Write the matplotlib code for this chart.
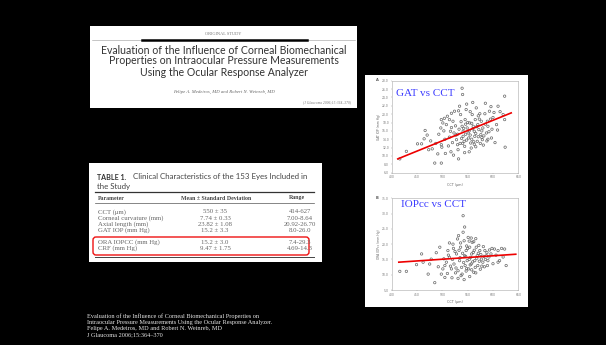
import matplotlib.pyplot as plt
from matplotlib.patches import Rectangle, FancyBboxPatch

# slide size in pixels
W, H = 606, 345

# --- scatter data ---
gat_cct = [416, 429, 451, 459, 464, 466, 477, 473, 480, 485, 498, 491, 498, 501, 497,
           498, 499, 508, 510, 514, 516, 514, 521, 524, 523, 528, 530, 531, 532, 534,
           539, 540, 536, 539, 541, 541, 543, 544, 545, 547, 549, 551, 552, 554, 556,
           557, 559, 561, 563, 564, 565, 567, 569, 570, 572, 574, 576, 577, 579, 580,
           584, 587, 589, 590, 593, 597, 602, 607, 610, 620, 623, 623, 624, 505, 512,
           518, 520, 526, 527, 533, 535, 537, 538, 542, 546, 548, 550, 553, 555, 558,
           560, 562, 566, 568, 571, 573, 575, 578, 582, 585, 588, 592, 595, 598, 600,
           604, 609, 614, 470, 487, 493, 503, 506, 517, 522, 544, 553, 566, 581, 548,
           560, 532, 555, 518, 585, 596, 504, 540, 546, 558, 563, 571, 578, 590, 530]
gat_iop = [9.3, 11.1, 12.9, 12.9, 14.1, 16.1, 13.6, 11.5, 11.7, 8.3, 8.3, 10.5, 18.7, 17.9, 16.7,
           12.7, 12.1, 17.5, 19.5, 18.7, 15.9, 14.5, 18.3, 20.7, 15.5, 13.9, 12.7, 11.5, 9.3, 21.9,
           26.2, 24.7, 19.9, 17.1, 15.9, 14.7, 13.5, 12.3, 18.7, 21.1, 16.7, 15.5, 14.3, 17.9, 13.1,
           11.9, 19.9, 17.1, 15.9, 14.7, 18.7, 21.5, 13.5, 17.5, 16.3, 20.1, 15.1, 18.3, 13.9, 16.7,
           20.1, 15.5, 18.3, 17.1, 20.7, 14.3, 20.4, 17.5, 21.9, 19.9, 24.3, 18.7, 12.1, 14.0, 12.4,
           16.8, 13.2, 17.2, 15.0, 16.4, 13.0, 18.2, 14.2, 16.6, 15.2, 13.8, 18.0, 16.0, 15.0, 14.0,
           16.5, 13.4, 15.4, 17.0, 14.6, 18.8, 13.0, 16.0, 14.8, 17.6, 13.6, 15.8, 18.8, 16.4, 19.2,
           13.2, 16.2, 20.6, 15.0, 13.0, 15.2, 16.0, 10.6, 11.0, 10.2, 10.8, 11.0, 12.2, 12.6, 22.4,
           22.8, 20.8, 20.6, 20.2, 22.6, 21.8, 19.0, 13.0, 17.6, 17.8, 12.8, 19.6, 14.4, 14.0, 15.2]

iopcc_cct = [416, 429, 449, 459, 462, 475, 478, 472, 485, 495, 498, 501, 505, 508, 511,
             514, 518, 521, 523, 528, 530, 531, 534, 536, 537, 541, 541, 543, 544, 545,
             547, 549, 551, 552, 554, 556, 557, 559, 561, 562, 564, 567, 569, 570, 574,
             577, 580, 584, 587, 590, 593, 603, 610, 613, 623, 626, 610, 505, 512, 516,
             520, 525, 527, 533, 535, 538, 540, 542, 546, 548, 550, 553, 555, 558, 560,
             563, 565, 568, 571, 573, 576, 578, 582, 585, 588, 592, 596, 600, 606, 617,
             620, 488, 492, 503, 510, 519, 526, 539, 547, 558, 566, 575, 532, 544, 553,
             562, 572, 581, 522, 514, 536, 548, 557, 543, 531, 566, 598, 583, 589, 554]
iopcc = [11.1, 11.1, 13.3, 16.8, 14.1, 13.5, 15.1, 10.2, 7.4, 19.0, 10.2, 11.9, 9.1, 14.1, 17.9,
         15.7, 11.9, 20.0, 13.5, 16.8, 21.7, 11.3, 14.6, 19.0, 9.7, 29.3, 23.9, 21.1, 16.2, 13.0,
         17.9, 14.6, 22.2, 11.9, 19.0, 15.7, 13.5, 20.6, 17.3, 10.8, 14.6, 19.0, 16.2, 13.0, 17.9,
         15.1, 14.1, 17.9, 16.2, 14.6, 18.1, 18.4, 17.9, 14.6, 18.4, 13.0, 14.1, 13.0, 16.4, 12.8,
         15.0, 17.6, 12.2, 18.0, 15.6, 12.4, 17.0, 14.0, 16.0, 12.0, 18.6, 15.0, 13.2, 16.8, 14.2,
         18.0, 12.4, 15.4, 17.0, 14.4, 16.6, 12.8, 16.0, 15.0, 17.2, 15.8, 16.8, 13.6, 16.4, 18.6,
         15.8, 17.2, 12.6, 15.2, 10.4, 9.0, 10.6, 10.2, 11.2, 11.6, 10.6, 11.8, 22.8, 25.6, 21.0,
         20.8, 19.6, 19.2, 18.6, 20.4, 20.4, 19.4, 22.0, 8.4, 8.8, 21.8, 18.6, 12.6, 13.0, 9.4]

# regression lines (end points)
gat_fit_cct = [412, 636]
gat_fit_iop = [9.3, 20.3]
iopcc_fit_cct = [414, 645]
iopcc_fit_iop = [14.1, 16.7]

cct_ticks = [400, 450, 500, 550, 600, 650]
gat_ticks = [6, 8, 10, 12, 14, 16, 18, 20, 22, 24, 26, 28]
iopcc_ticks = [5, 10, 15, 20, 25, 30, 35]

# --- table 1 from the paper ---
table_params = ["CCT (\u03bcm)", "Corneal curvature (mm)", "Axial length (mm)",
                "GAT IOP (mm Hg)", "ORA IOPCC (mm Hg)", "CRF (mm Hg)"]
table_means = ["550 \u00b1 35", "7.74 \u00b1 0.33", "23.82 \u00b1 1.08",
               "15.2 \u00b1 3.3", "15.2 \u00b1 3.0", "9.47 \u00b1 1.75"]
table_ranges = ["414-627", "7.00-8.64", "20.92-26.70", "8.0-26.0", "7.4-29.3", "4.69-14.3"]

paper_title = ["Evaluation of the Influence of Corneal Biomechanical",
               "Properties on Intraocular Pressure Measurements",
               "Using the Ocular Response Analyzer"]
footer = ["Evaluation of the Influence of Corneal Biomechanical Properties on",
          "Intraocular Pressure Measurements Using the Ocular Response Analyzer.",
          "Felipe A. Medeiros, MD and Robert N. Weinreb, MD",
          "J Glaucoma 2006;15:364\u2013370"]

SANS = "Lato"
SERIF = "Liberation Serif"


def px_rect(x0, y0, x1, y1):
    # pixel box (top-left origin) -> figure fraction rect
    return [x0 / W, 1 - y1 / H, (x1 - x0) / W, (y1 - y0) / H]


fig = plt.figure(figsize=(W / 100, H / 100), dpi=100, facecolor="black")

# background layer drawn in pixel coordinates
bg = fig.add_axes([0, 0, 1, 1], zorder=0)
bg.set_xlim(0, W)
bg.set_ylim(H, 0)
bg.axis("off")

# white cut-outs
bg.add_patch(Rectangle((90, 26), 267, 82, fc="white", ec="none"))
bg.add_patch(Rectangle((89, 163), 233, 99, fc="white", ec="none"))
bg.add_patch(Rectangle((365, 75), 163, 232, fc="white", ec="none"))

# paper header box
bg.text(223, 34, "ORIGINAL STUDY", ha="center", va="center", fontsize=3.2,
        family=SERIF, color="#777777")
bg.plot([92, 355], [40, 40], color="#999999", lw=0.4)
bg.plot([142, 307], [40, 40], color="black", lw=1.8)
for i, line in enumerate(paper_title):
    bg.text(224, 50 + i * 11, line, ha="center", va="center", fontsize=7.6,
            family=SANS, color="#333333")
bg.text(224, 92, "Felipe A. Medeiros, MD and Robert N. Weinreb, MD", ha="center",
        va="center", fontsize=3.4, family=SERIF, style="italic", color="#666666")
bg.text(351, 102, "(J Glaucoma 2006;15:364\u2013370)", ha="right", va="center",
        fontsize=2.6, family=SERIF, style="italic", color="#777777")

# table box
bg.text(97, 177, "TABLE 1.", ha="left", va="center", fontsize=5.1, family=SANS,
        weight="bold", color="#333333")
bg.text(133, 177, "Clinical Characteristics of the 153 Eyes Included in", ha="left",
        va="center", fontsize=5.7, family=SANS, color="#444444")
bg.text(97, 187, "the Study", ha="left", va="center", fontsize=5.7, family=SANS,
        color="#444444")
bg.plot([95, 314], [192, 192], color="#333333", lw=0.9)
bg.text(98, 198, "Parameter", ha="left", va="center", fontsize=4.2, family=SERIF,
        weight="bold", color="#444444")
bg.text(216, 198, "Mean \u00b1 Standard Deviation", ha="center", va="center",
        fontsize=4.2, family=SERIF, weight="bold", color="#444444")
bg.text(297, 198, "Range", ha="center", va="center", fontsize=4.2, family=SERIF,
        weight="bold", color="#444444")
bg.plot([95, 314], [203, 203], color="#555555", lw=0.5)
row_y = [211.7, 218, 224, 230, 242, 248.3]
for y, p, m, r in zip(row_y, table_params, table_means, table_ranges):
    bg.text(98, y, p, ha="left", va="center", fontsize=4.9, family=SERIF, color="#666666")
    bg.text(215, y, m, ha="center", va="center", fontsize=4.9, family=SERIF, color="#666666")
    bg.text(300, y, r, ha="center", va="center", fontsize=4.9, family=SERIF, color="#666666")
bg.plot([95, 314], [256.5, 256.5], color="#444444", lw=0.7)
bg.add_patch(FancyBboxPatch((93, 237), 216, 18, boxstyle="round,pad=0,rounding_size=3",
                            fc="none", ec="#ee1111", lw=1.0))

# footer citation
for i, line in enumerate(footer):
    bg.text(87, 316 + i * 6.3, line, ha="left", va="center", fontsize=4.5,
            family=SERIF, color="#e8e8e8")


def style_axes(ax, yticks, ylim):
    ax.set_xlim(400, 650)
    ax.set_ylim(*ylim)
    ax.set_xticks(cct_ticks)
    ax.set_yticks(yticks)
    ax.set_yticklabels([f"{t:.1f}" for t in yticks])
    ax.tick_params(labelsize=2.2, labelcolor="#777777", length=1, width=0.3,
                   color="#999999", pad=1)
    for s in ax.spines.values():
        s.set_color("#aaaaaa")
        s.set_linewidth(0.4)
    ax.set_facecolor("white")


ax1 = fig.add_axes(px_rect(391.7, 80.7, 518.3, 172.7), zorder=2)
ax1.scatter(gat_cct, gat_iop, s=3.0, facecolors="none", edgecolors="#666666", linewidths=0.5)
ax1.plot(gat_fit_cct, gat_fit_iop, color="#ee0000", lw=1.2)
style_axes(ax1, gat_ticks, (6, 28))

ax2 = fig.add_axes(px_rect(391.7, 198.3, 518.3, 290), zorder=2)
ax2.scatter(iopcc_cct, iopcc, s=3.0, facecolors="none", edgecolors="#666666", linewidths=0.5)
ax2.plot(iopcc_fit_cct, iopcc_fit_iop, color="#ee0000", lw=1.2)
style_axes(ax2, iopcc_ticks, (5, 35))

# labels of the scatter panel, placed in pixel coordinates on top of everything
def ftext(x, y, s, **kw):
    fig.text(x / W, 1 - y / H, s, **kw)


ftext(396, 93, "GAT vs CCT", ha="left", va="center", fontsize=8, family=SERIF,
      color="#3b3bff")
ftext(401, 204.5, "IOPcc vs CCT", ha="left", va="center", fontsize=8, family=SERIF,
      color="#3b3bff")
ftext(379, 127, "GAT IOP (mm Hg)", rotation=90, ha="center", va="center",
      fontsize=2.2, color="#666666")
ftext(379, 244, "ORA IOPcc (mm Hg)", rotation=90, ha="center", va="center",
      fontsize=2.2, color="#666666")
ftext(455, 185, "CCT (\u00b5m)", ha="center", va="center", fontsize=2.4, color="#666666")
ftext(455, 302, "CCT (\u00b5m)", ha="center", va="center", fontsize=2.4, color="#666666")
ftext(377, 80, "A", ha="center", va="center", fontsize=2.6, weight="bold", color="#555555")
ftext(377, 198, "B", ha="center", va="center", fontsize=2.6, weight="bold", color="#555555")

fig.savefig("out.png", dpi=100, facecolor="black")
